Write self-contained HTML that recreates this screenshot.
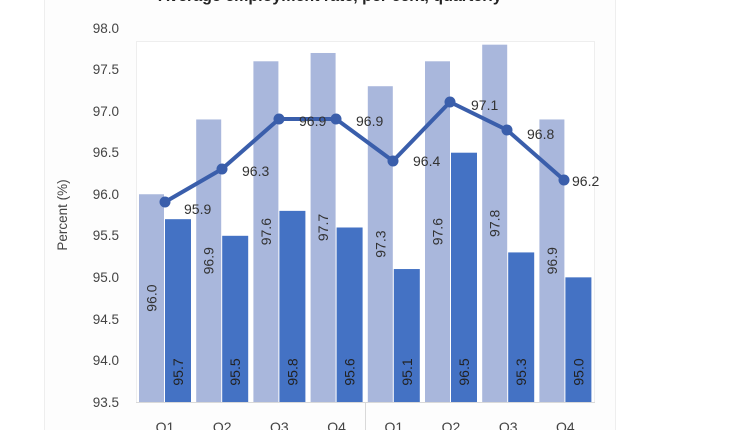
<!DOCTYPE html>
<html><head><meta charset="utf-8"><style>
body{margin:0;background:#fff;}
svg{display:block;font-family:"Liberation Sans",sans-serif;}
</style></head><body>
<svg width="730" height="430" viewBox="0 0 730 430">
<rect x="0" y="0" width="730" height="430" fill="#fff"/>
<rect x="44.5" y="-5" width="571" height="440" fill="#fdfdfd" stroke="#eeeeee"/>
<text x="330" y="1" font-size="16" font-weight="bold" fill="#222" text-anchor="middle">Average employment rate, per cent, quarterly</text>
<rect x="136.5" y="41.5" width="458" height="361" fill="#fff" stroke="#eeeeee"/>
<g font-size="13.5" fill="#444" text-anchor="end">
<text x="119" y="33">98.0</text><text x="119" y="74">97.5</text><text x="119" y="116">97.0</text>
<text x="119" y="157">96.5</text><text x="119" y="199">96.0</text><text x="119" y="240">95.5</text>
<text x="119" y="282">95.0</text><text x="119" y="324">94.5</text><text x="119" y="365">94.0</text>
<text x="119" y="407">93.5</text>
</g>
<text transform="translate(67,215) rotate(-90)" font-size="13.5" fill="#444" text-anchor="middle">Percent (%)</text>
<g id="bars"></g>
<line x1="136" y1="402.5" x2="595" y2="402.5" stroke="#d9d9d9"/>
<line x1="365.5" y1="402" x2="365.5" y2="430" stroke="#d9d9d9"/>
<g font-size="14" fill="#444" text-anchor="middle" id="cats"></g>
<polyline points="165,202 222,169 279,119 336,119 393,161 450,102 507,130 564,180" fill="none" stroke="#3a5eab" stroke-width="4" stroke-linejoin="round"/>
<g fill="#3a5eab">
<circle cx="165" cy="202" r="5.5"/><circle cx="222" cy="169" r="5.5"/><circle cx="279" cy="119" r="5.5"/><circle cx="336" cy="119" r="5.5"/>
<circle cx="393" cy="161" r="5.5"/><circle cx="450" cy="102" r="5.5"/><circle cx="507" cy="130" r="5.5"/><circle cx="564" cy="180" r="5.5"/>
</g>
<g font-size="14" fill="#333">
<text x="184" y="214">95.9</text><text x="242" y="176">96.3</text><text x="299" y="126">96.9</text>
<text x="356" y="126">96.9</text><text x="413" y="166">96.4</text><text x="471" y="110">97.1</text>
<text x="527" y="139">96.8</text><text x="572" y="186">96.2</text>
</g>
</svg>
<script>
(function(){
var ns="http://www.w3.org/2000/svg";
var L=[96.0,96.9,97.6,97.7,97.3,97.6,97.8,96.9];
var D=[95.7,95.5,95.8,95.6,95.1,96.5,95.3,95.0];
var Q=["Q1","Q2","Q3","Q4","Q1","Q2","Q3","Q4"];
var g=document.getElementById("bars"),c=document.getElementById("cats");
function y(v){return 402-(v-93.5)*83.1;}
function el(t,a,p){var e=document.createElementNS(ns,t);for(var k in a)e.setAttribute(k,a[k]);p.appendChild(e);return e;}
for(var i=0;i<8;i++){
 var left=136.5+i*57.2, cx=left+28.5;
 var ly=y(L[i]), dy=y(D[i]);
 el("rect",{x:left+2.5,y:ly,width:25,height:402-ly,fill:"#a9b7dc"},g);
 el("rect",{x:cx,y:dy,width:26,height:402-dy,fill:"#4472c4"},g);
 var t=el("text",{transform:"translate("+(left+20)+","+((ly+402)/2)+") rotate(-90)","text-anchor":"middle","font-size":"14",fill:"#333"},g);t.textContent=L[i].toFixed(1);
 var t2=el("text",{transform:"translate("+(cx+18)+",372) rotate(-90)","text-anchor":"middle","font-size":"14",fill:"#222"},g);t2.textContent=D[i].toFixed(1);
 var q=el("text",{x:cx,y:432},c);q.textContent=Q[i];
}
})();
</script>
</body></html>
